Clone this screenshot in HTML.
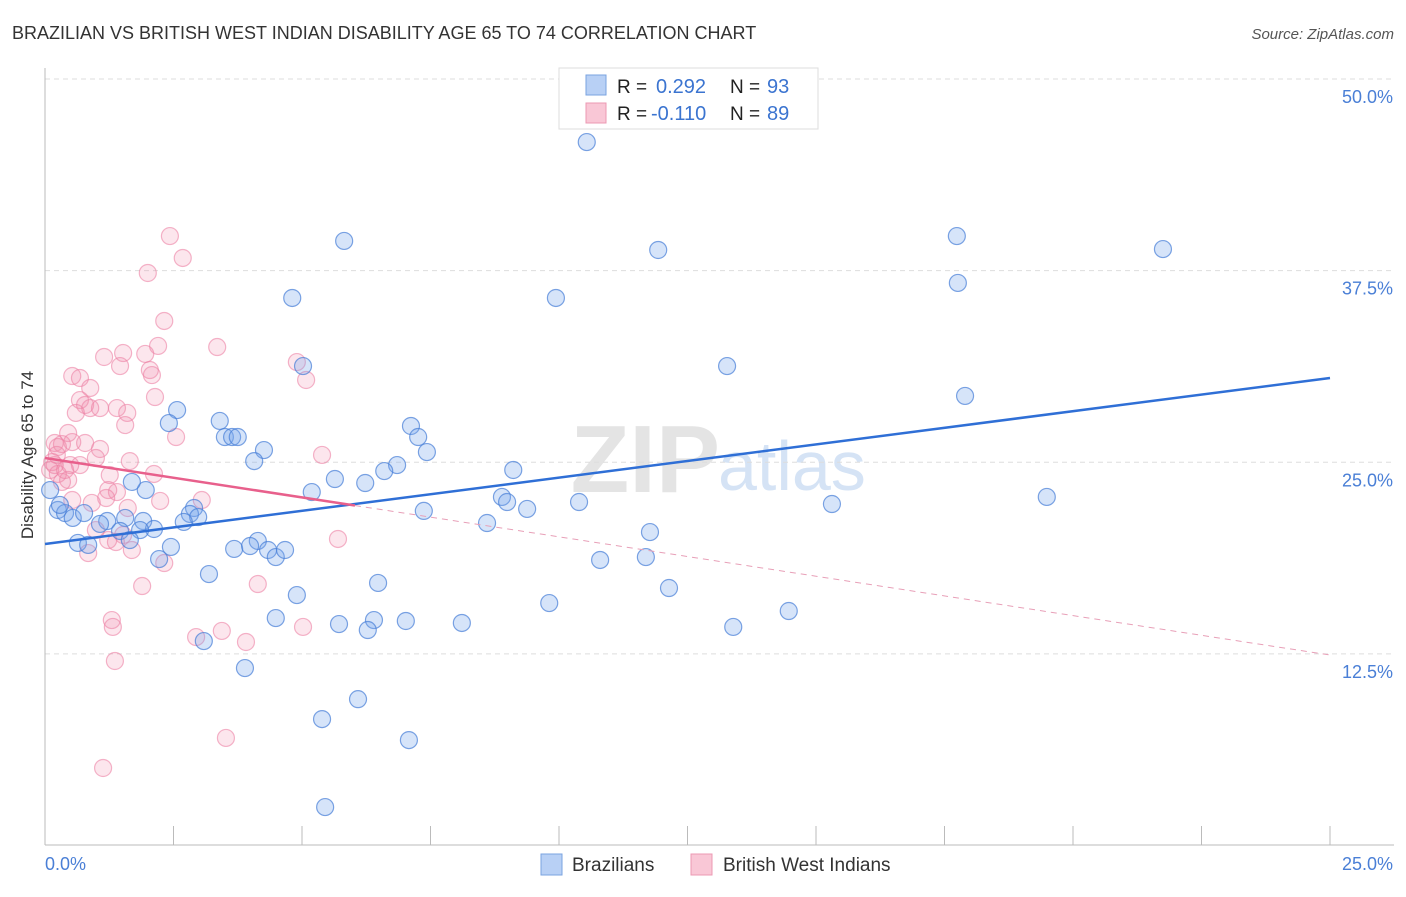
<!DOCTYPE html>
<html><head><meta charset="utf-8"><style>
body{margin:0;background:#fff;font-family:"Liberation Sans",sans-serif;}
svg text{font-family:"Liberation Sans",sans-serif;}
</style></head><body>
<svg id="chart" width="1406" height="892" xmlns="http://www.w3.org/2000/svg">
<text x="12" y="39" font-size="18" fill="#333">BRAZILIAN VS BRITISH WEST INDIAN DISABILITY AGE 65 TO 74 CORRELATION CHART</text>
<text x="1394" y="39" font-size="15" fill="#555" font-style="italic" text-anchor="end">Source: ZipAtlas.com</text>
<text transform="translate(33,455) rotate(-90)" font-size="17" fill="#333" text-anchor="middle">Disability Age 65 to 74</text>
<text x="720" y="492" font-size="96" fill="#e4e4e4" text-anchor="end" font-family="Liberation Serif" font-weight="bold">ZIP</text>
<text x="718" y="490" font-size="70" fill="#d5e3f5">atlas</text>
<g id="grid"></g><g id="axes"></g><g id="pinkpts"></g><g id="bluepts"></g><g id="trends"></g>
<g>
<rect x="559" y="68" width="259" height="61" fill="#fff" stroke="#ddd"/>
<rect x="586" y="75" width="20" height="20" fill="#b8d0f5" stroke="#7aa3e0"/>
<rect x="586" y="103" width="20" height="20" fill="#f9c7d6" stroke="#ec98b3"/>
<text x="617" y="93" font-size="19" fill="#222">R = </text><text x="656" y="93" font-size="20" fill="#3b74d0">0.292</text>
<text x="730" y="93" font-size="19" fill="#222">N = </text><text x="767" y="93" font-size="20" fill="#3b74d0">93</text>
<text x="617" y="120" font-size="19" fill="#222">R = </text><text x="651" y="120" font-size="20" fill="#3b74d0">-0.110</text>
<text x="730" y="120" font-size="19" fill="#222">N = </text><text x="767" y="120" font-size="20" fill="#3b74d0">89</text>
</g>
<g>
<rect x="541" y="854" width="21" height="21" fill="#b8d0f5" stroke="#7aa3e0"/>
<text x="572" y="871" font-size="19" fill="#333">Brazilians</text>
<rect x="691" y="854" width="21" height="21" fill="#f9c7d6" stroke="#ec98b3"/>
<text x="723" y="871" font-size="19" fill="#333">British West Indians</text>
</g>
</svg>
<script>
const yTicks=[50,37.5,25,12.5];
const yTickLabels=["50.0%","37.5%","25.0%","12.5%"];
const xTickLabels=["0.0%","25.0%"];
const blueX=[10.54,5.82,11.93,17.74,21.75,4.81,9.94,17.76,13.27,5.02,17.90,2.57,3.40,2.41,3.50,3.64,3.75,7.12,7.26,4.26,7.43,4.07,6.85,6.60,9.11,5.64,6.23,5.19,8.89,8.99,10.39,9.38,15.31,19.49,7.37,8.60,1.96,1.69,0.25,0.39,0.54,0.76,1.21,1.07,1.56,1.46,1.91,2.12,1.85,1.65,0.64,0.84,2.90,2.82,2.98,2.70,11.77,3.68,4.14,3.99,4.34,4.49,4.67,2.45,2.22,10.80,11.69,3.19,6.48,4.90,12.14,9.81,14.47,4.49,5.72,6.40,6.28,7.02,8.11,13.39,3.09,3.89,6.09,5.39,7.08,5.45,0.10,0.29];
const blueY=[47.06,40.61,40.02,40.93,40.08,36.89,36.89,37.87,32.45,32.45,30.50,29.58,28.87,28.73,27.82,27.82,27.82,28.54,27.82,26.97,26.84,26.25,25.99,25.60,25.67,25.08,24.82,24.23,23.91,23.58,23.58,23.13,23.45,23.91,23.00,22.21,24.36,24.89,23.06,22.86,22.54,22.86,22.34,22.15,22.54,21.69,22.34,21.82,21.75,21.10,20.91,20.78,23.19,22.80,22.60,22.28,21.62,20.52,21.04,20.71,20.45,19.99,20.45,20.65,19.86,19.80,19.99,18.88,18.30,17.51,17.97,16.99,16.47,16.01,15.62,15.88,15.23,15.82,15.69,15.43,14.51,12.75,10.72,9.42,8.05,3.68,24.36,23.39];
const pinkX=[2.43,2.68,2.00,2.32,3.35,2.20,1.15,1.52,1.95,1.46,4.90,5.08,2.04,2.08,0.53,0.68,0.88,2.14,0.68,1.40,0.78,0.88,1.07,0.60,1.60,1.56,2.55,0.45,0.53,0.19,0.33,0.78,1.07,0.25,0.99,5.39,1.65,0.14,0.49,0.68,0.10,0.25,1.26,2.12,0.45,0.33,1.23,1.40,1.19,2.24,0.53,3.05,0.91,1.61,0.99,1.52,1.23,1.38,1.69,0.84,2.32,5.70,1.89,4.14,1.30,1.32,5.02,3.44,2.94,3.91,1.36,3.52,1.13,0.19,0.23,0.39];
const pinkY=[40.93,39.50,38.52,35.39,33.69,33.76,33.04,33.30,33.24,32.45,32.71,31.54,32.19,31.86,31.80,31.67,31.02,30.43,30.23,29.71,29.91,29.71,29.71,29.39,29.39,28.60,27.82,28.08,27.49,27.43,27.36,27.43,27.04,27.17,26.45,26.65,26.25,26.19,25.99,25.99,25.67,25.41,25.34,25.41,25.02,24.89,24.36,24.23,23.84,23.65,23.71,23.71,23.52,23.19,21.75,21.43,21.10,20.97,20.45,20.25,19.60,21.17,18.10,18.23,15.88,15.43,15.43,15.17,14.77,14.45,13.21,8.19,6.23,25.99,26.65,25.67];
const blueTrend=[20.84,31.67];
const pinkTrend=[26.45,13.6];
const pinkSolidEnd=6.03;
const xs=v=>45+v*51.4;
const ys=v=>97+(50-v)*15.33;
const NS="http://www.w3.org/2000/svg";
function mk(tag,attrs,parent){const e=document.createElementNS(NS,tag);for(const k in attrs)e.setAttribute(k,attrs[k]);document.getElementById(parent).appendChild(e);return e;}
yTicks.forEach((t,i)=>{
  const g=mk('line',{x1:45,x2:1394,y1:ys(t)-18,y2:ys(t)-18,stroke:'#ddd','stroke-dasharray':'5,4'},'grid');
  
  
  const l=mk('text',{x:1393,y:ys(t)+6,'font-size':18,fill:'#4a7fd6','text-anchor':'end'},'axes');
  l.textContent=yTickLabels[i];
  
  
});
const ax=mk('line',{x1:45,x2:1394,y1:845,y2:845,stroke:'#bbb'},'axes');


const ay=mk('line',{x1:45,x2:45,y1:68,y2:845,stroke:'#bbb'},'axes');


for(let i=0;i<=10;i++){
  const t=mk('line',{x1:xs(i*2.5),x2:xs(i*2.5),y1:826,y2:845,stroke:'#bbb'},'axes');
  
  
}
const xl0=mk('text',{x:45,y:870,'font-size':18,fill:'#4a7fd6'},'axes');xl0.textContent=xTickLabels[0];


const xl1=mk('text',{x:1393,y:870,'font-size':18,fill:'#4a7fd6','text-anchor':'end'},'axes');xl1.textContent=xTickLabels[1];


pinkX.forEach((v,i)=>{
  const c=mk('circle',{cx:xs(v),cy:ys(pinkY[i]),r:8.5,fill:'rgba(242,140,175,0.22)',stroke:'rgba(236,130,165,0.6)','stroke-width':1.2},'pinkpts');
  
  
});
blueX.forEach((v,i)=>{
  const c=mk('circle',{cx:xs(v),cy:ys(blueY[i]),r:8.5,fill:'rgba(120,165,235,0.3)',stroke:'rgba(70,125,215,0.7)','stroke-width':1.2},'bluepts');
  
  
});
const bl=mk('line',{x1:xs(0),y1:ys(blueTrend[0]),x2:xs(25),y2:ys(blueTrend[1]),stroke:'#2f6fd6','stroke-width':2.5},'trends');


const pAt=v=>pinkTrend[0]+(pinkTrend[1]-pinkTrend[0])*v/25;
const ps=mk('line',{x1:xs(0),y1:ys(pinkTrend[0]),x2:xs(pinkSolidEnd),y2:ys(pAt(pinkSolidEnd)),stroke:'#e8608c','stroke-width':2.5},'trends');


const pd=mk('line',{x1:xs(pinkSolidEnd),y1:ys(pAt(pinkSolidEnd)),x2:xs(25),y2:ys(pinkTrend[1]),stroke:'#e8a0b8','stroke-width':1,'stroke-dasharray':'6,5'},'trends');


</script>
</body></html>
